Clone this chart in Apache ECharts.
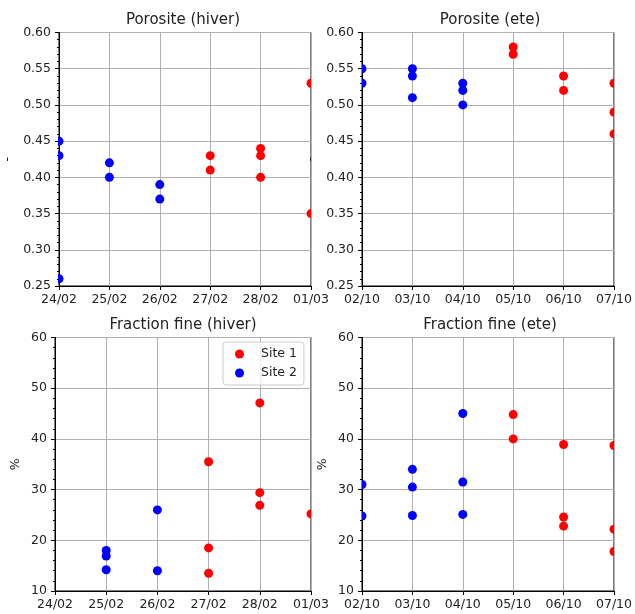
<!DOCTYPE html>
<html>
<head>
<meta charset="utf-8">
<script src="https://cdn.jsdelivr.net/npm/echarts@6/dist/echarts.min.js"></script>
<style>
  html, body { margin: 0; padding: 0; background: #fff; }
  #chart { width: 635px; height: 614px; }
</style>
</head>
<body>
<div id="chart"></div>
<script>
// dates (x categories)
const datesHiver = ['24/02', '25/02', '26/02', '27/02', '28/02', '01/03'];
const datesEte = ['02/10', '03/10', '04/10', '05/10', '06/10', '07/10'];

// Porosite (hiver)
const poroHiverSite1 = [['27/02', 0.43], ['27/02', 0.41], ['28/02', 0.44], ['28/02', 0.43], ['28/02', 0.40], ['01/03', 0.53], ['01/03', 0.35]];
const poroHiverSite2 = [['24/02', 0.45], ['24/02', 0.43], ['24/02', 0.26], ['25/02', 0.42], ['25/02', 0.40], ['26/02', 0.39], ['26/02', 0.37]];

// Porosite (ete)
const poroEteSite1 = [['05/10', 0.58], ['05/10', 0.57], ['06/10', 0.54], ['06/10', 0.52], ['07/10', 0.53], ['07/10', 0.49], ['07/10', 0.46]];
const poroEteSite2 = [['02/10', 0.55], ['02/10', 0.53], ['03/10', 0.55], ['03/10', 0.54], ['03/10', 0.51], ['04/10', 0.53], ['04/10', 0.52], ['04/10', 0.50]];

// Fraction fine (hiver)
const fineHiverSite1 = [['27/02', 35.5], ['27/02', 18.5], ['27/02', 13.5], ['28/02', 47.1], ['28/02', 29.4], ['28/02', 26.9], ['01/03', 25.2]];
const fineHiverSite2 = [['25/02', 18.0], ['25/02', 16.9], ['25/02', 14.2], ['26/02', 26.0], ['26/02', 14.0]];

// Fraction fine (ete)
const fineEteSite1 = [['05/10', 44.8], ['05/10', 40.0], ['06/10', 38.9], ['06/10', 24.6], ['06/10', 22.8], ['07/10', 38.7], ['07/10', 22.2], ['07/10', 17.8]];
const fineEteSite2 = [['02/10', 31.0], ['02/10', 24.8], ['03/10', 34.0], ['03/10', 30.5], ['03/10', 24.9], ['04/10', 45.0], ['04/10', 31.5], ['04/10', 25.1]];

const titles = ['Porosite (hiver)', 'Porosite (ete)', 'Fraction fine (hiver)', 'Fraction fine (ete)'];

const FONT = 'DejaVu Sans';
const txt = '#222';

const grids = [
  { left: 55, top: 32.5, width: 256, height: 253.5 },
  { left: 362, top: 32.5, width: 256, height: 253.5 },
  { left: 55, top: 337.5, width: 256, height: 253.5 },
  { left: 362, top: 337.5, width: 256, height: 253.5 }
].map(g => Object.assign(g, { show: true, borderColor: '#000', borderWidth: 1, backgroundColor: 'transparent' }));

function xAxisFor(i, dates) {
  return {
    type: 'category',
    gridIndex: i,
    data: dates,
    boundaryGap: false,
    axisLine: { lineStyle: { color: '#000', width: 1 } },
    axisTick: { show: true, alignWithLabel: true, length: 4, interval: 0, lineStyle: { color: '#000' } },
    axisLabel: { interval: 0, margin: 7, color: txt, fontFamily: FONT, fontSize: 12.5, showMinLabel: true, showMaxLabel: true },
    splitLine: { show: true, interval: 0, lineStyle: { color: '#b0b0b0', width: 1 } }
  };
}

function yAxisFor(i, min, max, interval, digits, name, gap) {
  return {
    type: 'value',
    gridIndex: i,
    min: min,
    max: max,
    interval: interval,
    name: name,
    nameLocation: 'middle',
    nameRotate: 90,
    nameGap: gap,
    nameTextStyle: { color: txt, fontFamily: FONT, fontSize: 12.5 },
    axisLine: { show: true, lineStyle: { color: '#000', width: 1 } },
    axisTick: { show: true, length: 4, lineStyle: { color: '#000' } },
    minorTick: { show: true, splitNumber: 5, length: 2, lineStyle: { color: '#000' } },
    axisLabel: { margin: 8, color: txt, fontFamily: FONT, fontSize: 12.5, formatter: v => v.toFixed(digits) },
    splitLine: { show: true, lineStyle: { color: '#b0b0b0', width: 1 } }
  };
}

// custom series so markers on the plot edge are cut like matplotlib does
function scatter(name, color, i, data) {
  return {
    name: name,
    type: 'custom',
    xAxisIndex: i,
    yAxisIndex: i,
    clip: true,
    itemStyle: { color: color },
    encode: { x: 0, y: 1 },
    renderItem: function (params, api) {
      const p = api.coord([api.value(0), api.value(1)]);
      return {
        type: 'circle',
        shape: { cx: p[0], cy: p[1], r: 4.5 },
        style: { fill: color }
      };
    },
    data: data
  };
}

const chart = echarts.init(document.getElementById('chart'));

chart.setOption({
  animation: false,
  backgroundColor: '#fff',
  title: titles.map((t, i) => ({
    text: t,
    left: grids[i].left + grids[i].width / 2,
    top: grids[i].top - 20,
    textAlign: 'center',
    padding: 0,
    textStyle: { color: txt, fontFamily: FONT, fontSize: 15, fontWeight: 'normal' }
  })),
  legend: {
    left: 223,
    top: 342,
    orient: 'vertical',
    data: ['Site 1', 'Site 2'],
    icon: 'circle',
    itemWidth: 9,
    itemHeight: 9,
    itemGap: 5,
    padding: [5, 7, 5, 12],
    backgroundColor: 'rgba(255,255,255,0.8)',
    borderColor: '#cccccc',
    borderWidth: 1,
    borderRadius: 3,
    textStyle: { color: txt, fontFamily: FONT, fontSize: 12.5, lineHeight: 14, padding: [0, 0, 0, 12] }
  },
  grid: grids,
  xAxis: [
    xAxisFor(0, datesHiver),
    xAxisFor(1, datesEte),
    xAxisFor(2, datesHiver),
    xAxisFor(3, datesEte)
  ],
  yAxis: [
    yAxisFor(0, 0.25, 0.6, 0.05, 2, '-', 45),
    yAxisFor(1, 0.25, 0.6, 0.05, 2, '-', 45),
    yAxisFor(2, 10, 60, 10, 0, '%', 33),
    yAxisFor(3, 10, 60, 10, 0, '%', 33)
  ],
  series: [
    scatter('Site 1', '#ff0000', 0, poroHiverSite1),
    scatter('Site 2', '#0000ff', 0, poroHiverSite2),
    scatter('Site 1', '#ff0000', 1, poroEteSite1),
    scatter('Site 2', '#0000ff', 1, poroEteSite2),
    scatter('Site 1', '#ff0000', 2, fineHiverSite1),
    scatter('Site 2', '#0000ff', 2, fineHiverSite2),
    scatter('Site 1', '#ff0000', 3, fineEteSite1),
    scatter('Site 2', '#0000ff', 3, fineEteSite2)
  ]
});
</script>
</body>
</html>
